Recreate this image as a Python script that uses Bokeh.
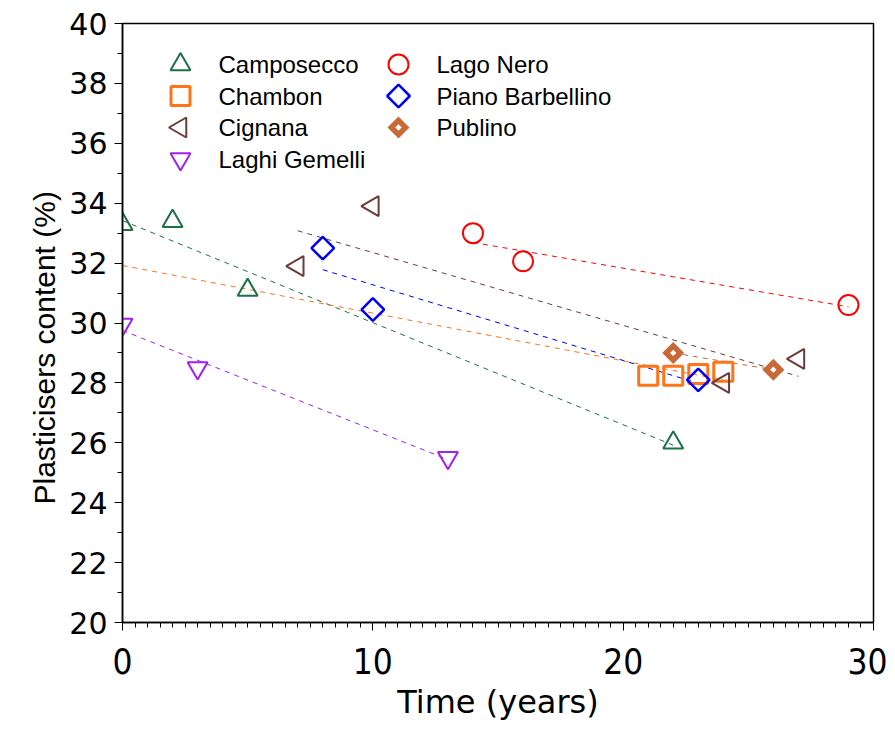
import math
from bokeh.plotting import figure
from bokeh.models import Range1d, FixedTicker, Title
from bokeh.core.properties import value
from bokeh.embed import file_html
from bokeh.resources import INLINE

# ---- data ----
camposecco_x = [0, 2, 5, 22]
camposecco_y = [33.3, 33.4, 31.1, 26.0]
chambon_x = [21, 22, 23, 24]
chambon_y = [28.24, 28.24, 28.3, 28.37]
cignana_x = [7, 10, 24, 27]
cignana_y = [31.9, 33.9, 28.0, 28.8]
laghi_x = [0, 3, 13]
laghi_y = [29.95, 28.5, 25.5]
lagonero_x = [14, 16, 29]
lagonero_y = [33.0, 32.06, 30.6]
piano_x = [8, 10, 23]
piano_y = [32.5, 30.45, 28.1]
publino_x = [22, 26]
publino_y = [29.0, 28.44]

# trend lines (endpoints)
camposecco_fit_x = [0, 22]
camposecco_fit_y = [33.42, 25.92]
chambon_fit_x = [0, 24]
chambon_fit_y = [31.92, 28.1]
cignana_fit_x = [7, 27]
cignana_fit_y = [33.08, 28.22]
laghi_fit_x = [0, 13]
laghi_fit_y = [29.75, 25.44]
lagonero_fit_x = [14, 29]
lagonero_fit_y = [32.69, 30.54]
piano_fit_x = [8, 23]
piano_fit_y = [31.78, 27.99]
publino_fit_x = [22, 26]
publino_fit_y = [29.0, 28.44]

series_names = ["Camposecco", "Chambon", "Cignana", "Laghi Gemelli",
                "Lago Nero", "Piano Barbellino", "Publino"]

x_ticks = [0, 10, 20, 30]
y_ticks = [20, 22, 24, 26, 28, 30, 32, 34, 36, 38, 40]

# ---- styles ----
C_GREEN = "#1b7045"
C_ORANGE = "#ff7417"
C_BROWN = "#6b3b3b"
C_PURPLE = "#a020f0"
C_RED = "#ff0000"
C_BLUE = "#0000ff"
C_PUB = "#c86a38"

styles = {
    "Camposecco": dict(marker="triangle", size=20, angle=0, fill_color=None,
                       line_color=C_GREEN, line_width=2),
    "Chambon": dict(marker="square", size=19, angle=0, fill_color=None,
                    line_color=C_ORANGE, line_width=3),
    "Cignana": dict(marker="triangle", size=20, angle=math.pi / 2, fill_color=None,
                    line_color=C_BROWN, line_width=2),
    "Laghi Gemelli": dict(marker="inverted_triangle", size=20, angle=0, fill_color=None,
                          line_color=C_PURPLE, line_width=2),
    "Lago Nero": dict(marker="circle", size=20, angle=0, fill_color=None,
                      line_color=C_RED, line_width=2),
    "Piano Barbellino": dict(marker="square", size=16, angle=math.pi / 4, fill_color=None,
                             line_color=C_BLUE, line_width=2.5),
    "Publino": dict(marker="square", size=10, angle=math.pi / 4, fill_color="white",
                    line_color=C_PUB, line_width=5.5, line_join="miter"),
}

FRAME_W, FRAME_H = 751, 599
TICK_FONT_X = "DejaVu Sans Condensed"
TICK_FONT_Y = "DejaVu Sans"
LFONT = "Liberation Sans"

p = figure(width=887, height=732, output_backend="svg", toolbar_location=None,
           x_range=Range1d(0, 30), y_range=Range1d(20, 40),
           min_border_left=122, min_border_right=14, min_border_top=23,
           min_border_bottom=110)
p.background_fill_color = "white"
p.border_fill_color = "white"
p.outline_line_color = "black"
p.outline_line_width = 1.5
p.xgrid.visible = False
p.ygrid.visible = False
# pixel-unit ranges for the legend block
p.extra_x_ranges = {"lx": Range1d(0, FRAME_W)}
p.extra_y_ranges = {"ly": Range1d(FRAME_H, 0)}

# axes
xa = p.xaxis[0]
xa.ticker = FixedTicker(ticks=x_ticks, minor_ticks=[i * 0.5 for i in range(61)])
xa.axis_line_width = 1.5
xa.major_tick_out = 8
xa.major_tick_in = 0
xa.minor_tick_out = 5
xa.minor_tick_in = 0
xa.major_label_text_font = TICK_FONT_X
xa.major_label_text_font_size = "35px"
xa.major_label_text_color = "black"
xa.major_label_standoff = 17
xa.axis_label = "Time (years)"
xa.axis_label_text_font = TICK_FONT_Y
xa.axis_label_text_font_size = "32px"
xa.axis_label_text_font_style = "normal"
xa.axis_label_text_color = "black"
xa.axis_label_standoff = 6

ya = p.yaxis[0]
ya.ticker = FixedTicker(ticks=y_ticks, minor_ticks=list(range(20, 41)))
ya.axis_line_width = 1.5
ya.major_tick_out = 8
ya.major_tick_in = 0
ya.minor_tick_out = 5
ya.minor_tick_in = 0
ya.major_label_text_font = TICK_FONT_Y
ya.major_label_text_font_size = "30px"
ya.major_label_text_color = "black"
ya.major_label_standoff = 7

ytitle = Title(text="Plasticisers content (%)", align="left", offset=118,
               text_font=LFONT, text_font_size="30px", text_font_style="normal",
               text_color="black", standoff=12)
p.add_layout(ytitle, "left")

# trend lines
for fx, fy, c in [(camposecco_fit_x, camposecco_fit_y, C_GREEN),
                  (chambon_fit_x, chambon_fit_y, C_ORANGE),
                  (cignana_fit_x, cignana_fit_y, C_BROWN),
                  (laghi_fit_x, laghi_fit_y, C_PURPLE),
                  (lagonero_fit_x, lagonero_fit_y, C_RED),
                  (piano_fit_x, piano_fit_y, C_BLUE),
                  (publino_fit_x, publino_fit_y, C_PUB)]:
    p.line(fx, fy, line_color=c, line_width=1, line_dash="5 5")

# markers
series_data = {
    "Camposecco": (camposecco_x, camposecco_y),
    "Chambon": (chambon_x, chambon_y),
    "Cignana": (cignana_x, cignana_y),
    "Laghi Gemelli": (laghi_x, laghi_y),
    "Lago Nero": (lagonero_x, lagonero_y),
    "Piano Barbellino": (piano_x, piano_y),
    "Publino": (publino_x, publino_y),
}
for name in series_names:
    xs, ys = series_data[name]
    p.scatter(xs, ys, **styles[name])

# legend block (laid out in pixel units inside the frame)
LEG_COL_X = [58, 276]
LEG_TEXT_DX = 38
LEG_ROW0 = 41
LEG_ROW_STEP = 31.5
for i, name in enumerate(series_names):
    col, row = (0, i) if i < 4 else (1, i - 4)
    gx = LEG_COL_X[col]
    gy = LEG_ROW0 + row * LEG_ROW_STEP
    p.scatter([gx], [gy], x_range_name="lx", y_range_name="ly", **styles[name])
    p.text([gx + LEG_TEXT_DX], [gy], text=[name], x_range_name="lx", y_range_name="ly",
           text_font=value(LFONT), text_font_size="24px", text_color="black",
           text_align="left", text_baseline="middle")

open("out.html", "w").write(file_html(p, INLINE))
